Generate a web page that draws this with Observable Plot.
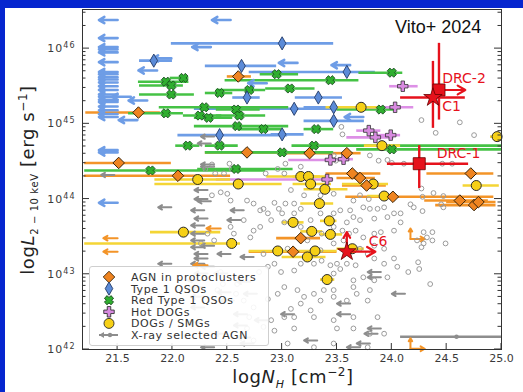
<!DOCTYPE html>
<html><head><meta charset="utf-8">
<script src="https://cdn.jsdelivr.net/npm/d3@7"></script>
<script src="https://cdn.jsdelivr.net/npm/@observablehq/plot@0.6"></script>
<style>
body{margin:0;background:#fff;width:523px;height:392px;position:relative;overflow:hidden;font-family:"DejaVu Sans",sans-serif}
#chart{position:absolute;left:0;top:0}
.band{position:absolute;background:#0626cf}
#title{position:absolute;left:395px;top:18px;font:18px "Liberation Sans",Arial,sans-serif;color:#111;line-height:1;white-space:nowrap}
#xlab{position:absolute;left:293px;top:366px;transform:translateX(-50%);font-size:18px;color:#222;white-space:nowrap;letter-spacing:0.6px}
#ylab{position:absolute;left:27px;top:180px;transform:translate(-50%,-50%) rotate(-90deg);font-size:18px;color:#222;white-space:nowrap;letter-spacing:0.6px}
#legend{position:absolute;left:89px;top:266px;width:178px;height:78px;border:1px solid #cfcfcf;border-radius:3px;background:rgba(255,255,255,0.9)}
sub,sup{line-height:0}
</style></head><body>
<div id="chart"></div>
<div class="band" style="left:0;top:0;width:523px;height:8px"></div>
<div class="band" style="left:0;top:0;width:5px;height:392px"></div>
<div id="title">Vito+ 2024</div>
<div id="xlab">log<i>N<sub style="font-size:11px">H</sub></i> [cm<sup style="font-size:12px">−2</sup>]</div>
<div id="ylab">log<i>L</i><sub style="font-size:10px">2 − 10 keV</sub> [erg s<sup style="font-size:12px">−1</sup>]</div>
<div id="legend"></div>
<script>
// ---------- data: [logNH, logL, NH error low, NH error high] ----------
const agnProto = [
  [22.60,45.63,22.50,22.72],[21.69,45.15,21.21,21.89],[22.68,44.62,22.30,23.05],[23.25,44.61,23.05,23.45],
  [23.59,44.61,23.45,23.72],[21.51,44.48,21.20,21.99],[22.05,44.31,21.20,22.53],[23.64,44.34,23.40,23.90],
  [23.71,44.28,23.50,23.85],[23.77,44.18,23.55,23.95],[24.72,44.34,24.32,24.93],[24.01,44.03,23.58,24.93],
  [24.62,43.98,24.30,24.88],[24.75,43.92,24.40,24.95],[24.79,43.96,24.50,24.95],[23.17,43.48,22.95,23.35],
  [23.10,43.30,22.70,23.50]
];
const type1 = [
  [23.00,46.07,21.99,23.47],[21.83,45.84,21.70,22.00],[22.63,45.77,22.30,22.95],[23.59,45.69,22.70,23.85],
  [22.68,45.35,22.55,22.80],[23.33,45.35,23.12,23.55],[23.11,45.20,22.20,23.50],[23.47,45.22,23.20,23.80],
  [23.47,45.04,23.20,23.75],[22.43,44.85,22.05,23.05],[23.00,44.86,22.90,23.20]
];
const redType1 = [
  [22.95,45.66,22.80,23.15],[24.00,45.68,23.70,24.10],[23.44,45.58,22.48,23.70],[21.94,45.56,21.69,22.15],
  [22.10,45.61,21.98,22.15],[21.99,45.51,21.70,22.10],[23.07,45.47,22.85,23.30],[22.70,45.45,22.40,22.85],
  [22.43,45.41,22.30,22.55],[21.99,45.39,21.70,22.20],[22.29,45.22,21.88,23.06],[22.58,45.19,22.40,22.80],
  [21.94,45.14,21.60,22.10],[22.25,45.11,22.10,22.45],[22.33,45.08,22.20,22.55],[22.61,45.11,22.40,22.85],
  [23.90,45.19,23.50,24.05],[22.59,44.97,22.20,23.06],[22.83,44.93,22.60,23.00],[23.31,44.93,23.20,23.47],
  [23.29,44.71,23.09,25.00],[22.14,44.71,22.03,22.25],[22.43,44.71,22.30,22.60],[23.00,44.62,22.30,23.47],
  [24.00,44.66,23.68,25.00],[21.80,44.38,21.20,22.85],[22.58,44.40,22.23,23.10]
];
const hotDogs = [
  [24.10,45.50,23.98,24.24],[24.03,45.22,23.77,24.20],[23.79,44.91,23.68,23.90],[23.85,44.82,23.59,24.02],
  [23.99,44.85,23.87,24.08],[23.44,44.52,23.06,23.47],[23.56,44.53,23.40,23.65],[23.41,44.26,22.40,23.47]
];
const dogsSmgs = [
  [23.72,45.22,23.40,23.90],[24.96,44.83,24.90,25.00],[23.91,44.71,23.75,24.08],[22.23,44.26,21.84,22.53],
  [22.60,44.20,21.84,23.00],[23.17,44.30,22.86,23.35],[23.24,44.30,23.10,23.40],[23.26,44.20,23.10,23.45],
  [23.39,44.13,23.20,23.60],[23.83,44.20,23.55,23.97],[24.77,44.18,24.65,24.98],[23.93,44.04,23.78,24.05],
  [23.34,43.94,23.17,23.47],[23.10,43.69,23.00,23.20],[23.43,43.71,23.35,23.50],[23.27,43.57,23.17,23.37],
  [23.44,43.53,23.35,23.55],[22.10,43.56,21.80,22.44],[22.54,43.41,21.20,22.62],[22.96,43.31,22.70,23.10],
  [23.30,43.31,23.10,23.50],[23.23,43.23,23.00,23.40],[23.64,43.34,23.50,23.75],[23.41,42.93,23.35,23.48]
];
// X-ray selected AGN: detections [logNH, logL]
const xrayDet = [
  [24.27,45.05],[24.62,45.02],[24.40,44.88],[24.75,44.85],[23.54,44.96],[23.55,44.86],[23.80,44.58],[23.96,44.52],
  [23.88,44.51],[23.49,44.51],[23.47,44.58],[23.17,44.43],[23.03,44.47],[22.52,44.47],[22.36,44.46],[22.30,44.40],
  [22.54,44.40],[22.39,44.34],[22.47,44.34],[22.96,44.40],[23.02,44.34],[22.85,44.34],[24.27,44.14],[24.38,44.08],
  [24.47,44.04],[24.28,44.03],[24.45,43.93],[24.47,43.89],[24.20,43.89],[24.28,43.84],[24.17,43.93],[24.00,44.48],
  [24.11,44.47],[24.46,44.47],[24.55,44.47],[23.71,44.05],[23.79,44.00],[23.65,43.98],[23.47,44.07],[23.35,44.05],
  [23.20,44.05],[23.08,44.12],[23.03,43.94],[23.11,43.94],[23.17,43.87],[22.97,43.87],[22.93,43.95],[22.83,43.87],
  [22.44,44.09],[22.50,44.07],[22.36,44.05],[22.53,43.98],[22.68,43.98],[22.74,43.94],[22.80,43.85],[22.87,43.81],
  [23.00,43.81],[23.11,43.81],[23.26,43.72],[23.35,43.81],[23.47,43.81],[23.53,43.85],[23.62,43.85],[23.65,43.76],
  [23.74,43.89],[23.80,43.87],[23.87,43.87],[23.93,43.89],[23.96,43.76],[24.02,43.81],[24.08,43.81],[23.84,43.74],
  [23.71,43.72],[23.59,43.69],[23.47,43.63],[23.55,43.58],[23.61,43.54],[23.67,43.58],[23.74,43.49],[23.84,43.54],
  [23.90,43.56],[24.02,43.58],[24.08,43.69],[24.29,43.56],[24.37,43.56],[24.32,43.49],[24.29,43.41],[24.37,43.45],
  [24.49,43.41],[24.23,43.45],[24.27,43.36],[24.24,43.16],[24.25,43.07],[24.15,43.03],[24.35,42.87],[24.02,43.21],
  [24.05,43.10],[23.93,43.14],[23.84,43.21],[23.78,43.27],[23.67,43.12],[23.59,43.14],[23.50,43.14],[23.44,43.12],
  [23.36,43.18],[23.29,43.14],[23.17,43.14],[23.11,43.05],[22.99,43.03],[22.93,43.14],[22.87,43.10],[22.79,43.03],
  [23.47,43.01],[23.53,43.07],[23.65,42.92],[23.74,42.96],[23.84,42.92],[23.96,42.96],[23.80,42.79],[23.65,42.83],
  [23.47,42.79],[23.38,42.79],[23.29,42.74],[23.20,42.70],[23.14,42.79],[23.02,42.83],[22.96,42.74],[22.87,42.67],
  [23.08,42.54],[23.17,42.61],[23.26,42.52],[23.35,42.65],[23.47,42.70],[23.59,42.65],[23.68,42.74],[23.78,42.65],
  [23.87,42.43],[23.65,42.43],[23.47,42.39],[23.29,42.43],[23.11,42.43],[23.02,42.43],[22.90,42.39],[22.83,42.30],
  [22.93,42.25],[23.11,42.28],[23.50,42.28],[23.65,42.28],[23.80,42.21],[23.93,42.21],[23.78,42.03],[23.47,42.08],
  [23.29,42.03],[23.05,42.08],[22.74,42.12],[22.68,42.28],[22.70,42.43],[22.74,42.56],[22.65,42.65],[22.58,42.74],
  [22.59,42.87],[22.41,42.79],[22.46,42.87],[22.62,42.96],[22.44,43.03],[22.83,43.27],[23.05,43.34],[23.23,43.45],
  [23.35,43.32],[22.71,43.49],[22.74,43.58],[22.56,43.54],[22.53,43.63],[22.65,43.72],[22.80,43.63],[22.90,43.72],
  [23.02,43.69],[23.17,43.63],[23.36,43.54],[23.47,43.41],[23.56,43.45],[23.84,43.38],[23.93,43.34],[23.71,43.34],
  [22.32,43.54],[22.38,43.45],[22.26,43.41]
];
// X-ray selected AGN: NH upper limits [logNH limit, logL]
const xrayLim = [
  [22.38,44.46],[22.38,44.43],[22.32,44.12],[22.32,44.00],[22.35,43.97],[22.29,43.85],[22.65,43.85],[22.32,43.74],
  [22.62,43.72],[22.29,43.65],[22.29,43.54],[22.29,43.45],[22.38,43.38],[22.29,43.36],[22.32,43.27],[22.32,43.21],
  [22.53,43.27],[22.74,43.23],[22.29,43.14],[22.38,43.10],[22.32,43.01],[22.50,43.01],[22.26,42.92],[22.71,42.90],
  [22.29,42.83],[22.53,42.76],[22.77,42.74],[22.29,42.70],[22.56,42.65],[22.29,42.56],[22.68,42.47],[23.11,42.47],
  [22.87,42.39],[22.26,42.36],[22.68,42.32],[22.50,42.21],[22.71,42.16],[22.38,42.03],[22.74,42.08],[23.32,42.12],
  [23.62,42.61],[23.62,42.47],[23.90,42.28],[23.87,42.21],[23.90,42.96],[23.90,43.03],[24.12,42.74],[23.71,42.03],
  [23.80,42.08],[21.99,43.89],[21.99,43.14],[21.47,44.32],[22.38,44.83],[22.35,44.74]
];
const xrayBar = [[24.59,42.17,24.08,25.00]];
// Type 1 QSOs: NH upper limits
const type1Lim = [
  [21.50,46.38],[21.50,46.14],[21.50,46.02],[21.50,45.99],[21.50,45.95],[21.50,45.82],[21.50,45.69],[21.50,45.66],
  [21.50,45.62],[21.50,45.59],[21.50,45.55],[21.50,45.50],[21.50,45.45],[21.50,45.39],[21.50,45.36],[21.50,45.32],
  [21.50,45.29],[21.50,45.23],[21.50,45.18],[21.50,45.13],[21.50,45.09],[21.50,44.65],[21.50,44.62],[21.50,43.95],
  [22.53,46.38],[22.35,46.02],[21.99,45.87],[21.86,45.71],[21.62,45.36],[21.68,45.05],[23.14,45.81],[23.62,45.78],
  [22.86,45.54],[23.74,45.09],[21.77,45.31]
];
// AGN in protoclusters: NH upper limits, and lower limits on both quantities
const agnLim = [[21.50,43.48],[21.50,43.30],[22.44,43.61],[22.32,43.12]];
const agnLowLim = [[24.17,43.47],[24.17,42.01]];
// highlighted sources
const redSquares = [["DRC-2",24.43,45.45],["DRC-1",24.25,44.47]];
const redStars = [["C1",24.375,45.35],["C6",23.59,43.30]];
const redHBars = [[45.35,24.08,24.67],[44.47,23.96,24.70]];
const redVBars = [[24.43,45.05,46.07],[24.375,44.94,45.83],[24.25,44.14,44.71]];
const redRightArrows = [[24.43,24.67,45.45],[23.59,23.85,43.30]];
const redUpArrows = [[23.59,43.30,43.56]];
const redLabels = [["DRC-2",24.46,45.60],["C1",24.46,45.23],["DRC-1",24.41,44.60],["C6",23.79,43.44]];
const xTicks = [21.5,22.0,22.5,23.0,23.5,24.0,24.5,25.0];
const yTicks = [42,43,44,45,46];
const legendLabels = ["AGN in protoclusters","Type 1 QSOs","Red Type 1 QSOs","Hot DOGs","DOGs / SMGs","X-ray selected AGN"];

// ---------- styles ----------
const C = {
  orange:"#ef8420", orangeBar:"#f39428",
  blue:"#5b8bd8", blueBar:"#6e9de6",
  green:"#2fae2f", greenBar:"#45c245",
  pink:"#d88ae0", pinkBar:"#dd90e6",
  yellow:"#f6d016", yellowBar:"#f4d535",
  grey:"#8d8d8d", red:"#e6121c"
};
// filled "X" marker
const symbolXFilled = {
  draw(ctx, size) {
    const r = Math.sqrt(size / 5) / 2, a = r * 1.2, b = r * 2.9;
    const pts = [[-b,-a],[-a,-a],[-a,-b],[a,-b],[a,-a],[b,-a],[b,a],[a,a],[a,b],[-a,b],[-a,a],[-b,a]];
    const s = Math.SQRT1_2;
    pts.forEach(([x,y],i) => { const X=(x-y)*s, Y=(x+y)*s; i ? ctx.lineTo(X,Y) : ctx.moveTo(X,Y); });
    ctx.closePath();
  }
};

const bars = (data, color) => Plot.ruleY(data, {y: d=>d[1], x1: d=>d[2], x2: d=>d[3], stroke: color, strokeWidth: 2.6, clip: true});
const limArrows = (data, len, color, sw, head) => Plot.arrow(data, {x1: d=>d[0], x2: d=>d[0]-len, y1: d=>d[1], y2: d=>d[1], stroke: color, strokeWidth: sw, headLength: head, clip: true});

const plot = Plot.plot({
  width: 523, height: 392,
  marginLeft: 82, marginRight: 22, marginTop: 9, marginBottom: 43,
  style: {background: "transparent", fontFamily: "DejaVu Sans, sans-serif"},
  x: {domain: [21.18, 25.0]},
  y: {domain: [42, 46.52]},
  marks: [
    bars(agnProto, C.orangeBar),
    bars(type1, C.blueBar),
    bars(redType1, C.greenBar),
    bars(hotDogs, C.pinkBar),
    bars(dogsSmgs, C.yellowBar),
    bars(xrayBar, C.grey),
    limArrows(type1Lim, 0.17, C.blueBar, 2.6, 6),
    limArrows(xrayLim, 0.12, C.grey, 2, 5),
    limArrows(agnLim, 0.13, C.orangeBar, 2, 5),
    Plot.arrow(agnLowLim, {x1: d=>d[0], x2: d=>d[0], y1: d=>d[1], y2: d=>d[1]+0.14, stroke: C.orangeBar, strokeWidth: 2, headLength: 5}),
    Plot.arrow(agnLowLim, {x1: d=>d[0], x2: d=>d[0]+0.13, y1: d=>d[1], y2: d=>d[1], stroke: C.orangeBar, strokeWidth: 2, headLength: 5}),
    Plot.dot(xrayBar, {x: d=>d[0], y: d=>d[1], r: 2.2, fill: C.grey}),
    Plot.dot(xrayDet, {x: d=>d[0], y: d=>d[1], r: 2.4, stroke: "#9b9b9b", strokeWidth: 1, fill: "none"}),
    Plot.dot(dogsSmgs, {x: d=>d[0], y: d=>d[1], r: 5, fill: C.yellow, stroke: "#2a2a2a", strokeWidth: 1}),
    Plot.dot(hotDogs, {x: d=>d[0], y: d=>d[1], r: 4.4, symbol: "cross", fill: C.pink, stroke: "#333", strokeWidth: 0.8}),
    Plot.dot(redType1, {x: d=>d[0], y: d=>d[1], r: 4, symbol: symbolXFilled, fill: C.green, stroke: "#14401a", strokeWidth: 0.8}),
    Plot.dot(type1, {x: d=>d[0], y: d=>d[1], r: 4, symbol: "diamond", fill: C.blue, stroke: "#233a66", strokeWidth: 0.9}),
    Plot.dot(agnProto, {x: d=>d[0], y: d=>d[1], r: 5.2, symbol: "diamond2", fill: C.orange, stroke: "#3a2408", strokeWidth: 1}),
    // highlighted
    Plot.ruleY(redHBars, {y: d=>d[0], x1: d=>d[1], x2: d=>d[2], stroke: C.red, strokeWidth: 2.4}),
    Plot.ruleX(redVBars, {x: d=>d[0], y1: d=>d[1], y2: d=>d[2], stroke: C.red, strokeWidth: 2.4}),
    Plot.arrow(redRightArrows, {x1: d=>d[0], x2: d=>d[1], y1: d=>d[2], y2: d=>d[2], stroke: C.red, strokeWidth: 2.2, headLength: 7}),
    Plot.arrow(redUpArrows, {x1: d=>d[0], x2: d=>d[0], y1: d=>d[1], y2: d=>d[2], stroke: C.red, strokeWidth: 2.2, headLength: 7}),
    Plot.dot(redSquares, {x: d=>d[1], y: d=>d[2], r: 6.8, symbol: "square", fill: C.red, stroke: "#600", strokeWidth: 0.8}),
    Plot.dot(redStars, {x: d=>d[1], y: d=>d[2], r: 5.8, symbol: "star", fill: C.red, stroke: "#600", strokeWidth: 0.8}),
    Plot.text(redLabels, {x: d=>d[1], y: d=>d[2], text: d=>d[0], fill: C.red, fontSize: 14, textAnchor: "start", fontFamily: "DejaVu Sans, sans-serif"}),
    Plot.frame({stroke: "#333", strokeWidth: 1}),
    Plot.axisX(xTicks, {tickSize: 0, tickPadding: 5, fontSize: 11, fill: "#3a3a3a", tickFormat: d=>d.toFixed(1), style: "letter-spacing:1.2px"}),
    Plot.axisY(yTicks, {tickSize: 0, tickPadding: 7, fontSize: 11, fill: "#3a3a3a", tickFormat: d=>String(d)})
  ]
});
document.getElementById("chart").appendChild(plot);

// superscript exponents on y tick labels
const svg = d3.select(plot);
svg.selectAll('g[aria-label="y-axis tick label"] text').each(function() {
  const t = d3.select(this), e = t.text();
  t.text("10").attr("letter-spacing", "1px");
  t.append("tspan").attr("dy", "-0.5em").attr("font-size", "8px").text(e);
});
// inward ticks via the plot's scales
const sx = plot.scale("x"), sy = plot.scale("y");
const [x0, x1] = [sx.apply(21.18), sx.apply(25.0)];
const yb = sy.apply(42);
const tg = svg.append("g").attr("stroke", "#333").attr("stroke-width", 1);
xTicks.forEach(v => { const p = sx.apply(v); tg.append("line").attr("x1", p).attr("x2", p).attr("y1", yb).attr("y2", yb - 6); });
const minor = [];
for (let n = 42; n <= 46; n++) for (let k = 2; k <= 9; k++) { const v = n + Math.log10(k); if (v < 46.52) minor.push(v); }
yTicks.forEach(v => { const p = sy.apply(v);
  tg.append("line").attr("x1", x0).attr("x2", x0 + 7).attr("y1", p).attr("y2", p);
  tg.append("line").attr("x1", x1).attr("x2", x1 - 7).attr("y1", p).attr("y2", p); });
minor.forEach(v => { const p = sy.apply(v);
  tg.append("line").attr("x1", x0).attr("x2", x0 + 3.5).attr("y1", p).attr("y2", p);
  tg.append("line").attr("x1", x1).attr("x2", x1 - 3.5).attr("y1", p).attr("y2", p); });

// legend
const lg = d3.select("#legend").append("svg").attr("width", 178).attr("height", 78);
const legendSyms = [
  {sym: d3.symbolDiamond2, size: Math.PI*5.2*5.2, fill: C.orange, stroke: "#3a2408"},
  {sym: d3.symbolDiamond, size: Math.PI*4*4, fill: C.blue, stroke: "#233a66"},
  {sym: symbolXFilled, size: Math.PI*4*4, fill: C.green, stroke: "#14401a"},
  {sym: d3.symbolCross, size: Math.PI*4.4*4.4, fill: C.pink, stroke: "#333"},
  {sym: d3.symbolCircle, size: Math.PI*5*5, fill: C.yellow, stroke: "#2a2a2a"},
  null
];
legendLabels.forEach((lab, i) => {
  const cy = 10 + i * 11.6;
  const s = legendSyms[i];
  if (s) {
    lg.append("path").attr("d", d3.symbol(s.sym, s.size)()).attr("transform", `translate(19,${cy})`)
      .attr("fill", s.fill).attr("stroke", s.stroke).attr("stroke-width", 0.9);
  } else {
    lg.append("line").attr("x1", 9).attr("x2", 28).attr("y1", cy).attr("y2", cy).attr("stroke", C.grey).attr("stroke-width", 2);
    lg.append("path").attr("d", "M9,"+cy+" l5,-3 v6 z").attr("fill", C.grey);
    lg.append("circle").attr("cx", 20).attr("cy", cy).attr("r", 2.2).attr("fill", C.grey);
  }
  lg.append("text").attr("x", 41).attr("y", cy + 4).attr("font-size", 11).attr("letter-spacing", "0.6px")
    .attr("fill", "#333").text(lab);
});
</script>
</body></html>
